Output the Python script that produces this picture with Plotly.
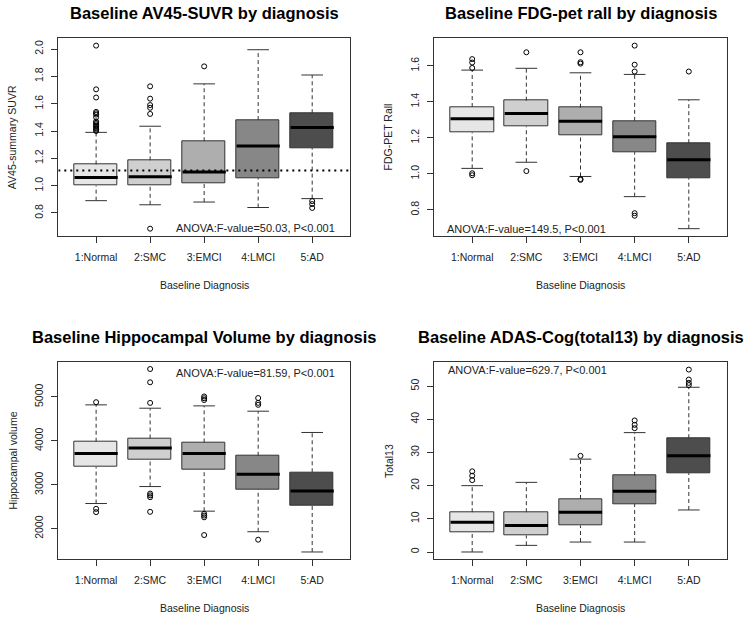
import plotly.graph_objects as go

categories = ["1:Normal", "2:SMC", "3:EMCI", "4:LMCI", "5:AD"]
fill_colors = ["#E6E6E6", "#CFCFCF", "#AEAEAE", "#878787", "#4D4D4D"]

# Panel 1: AV45-SUVR
av45_lo = [0.89, 0.86, 0.88, 0.84, 0.905]
av45_q1 = [1.00, 1.005, 1.02, 1.055, 1.275]
av45_med = [1.06, 1.065, 1.10, 1.29, 1.425]
av45_q3 = [1.155, 1.185, 1.325, 1.48, 1.53]
av45_hi = [1.39, 1.435, 1.745, 1.995, 1.81]
av45_out = [
    [1.40, 1.41, 1.42, 1.43, 1.44, 1.45, 1.46, 1.47, 1.50, 1.52, 1.53, 1.54, 1.645, 1.705, 2.025],
    [0.685, 1.525, 1.57, 1.59, 1.637, 1.727],
    [1.873],
    [],
    [0.837, 0.865, 0.887],
]
av45_cutoff = 1.11

# Panel 2: FDG-PET
fdg_lo = [1.03, 1.064, 0.985, 0.873, 0.695]
fdg_q1 = [1.23, 1.263, 1.215, 1.12, 0.976]
fdg_med = [1.306, 1.335, 1.292, 1.206, 1.078]
fdg_q3 = [1.371, 1.406, 1.367, 1.294, 1.17]
fdg_hi = [1.576, 1.586, 1.561, 1.552, 1.411]
fdg_out = [
    [0.992, 1.003, 1.588, 1.618, 1.637],
    [1.015, 1.675],
    [0.966, 0.971, 1.612, 1.620, 1.675],
    [0.767, 0.781, 1.568, 1.606, 1.712],
    [1.568],
]

# Panel 3: Hippocampal volume
hip_lo = [2574, 2960, 2400, 1932, 1471]
hip_q1 = [3405, 3579, 3345, 2899, 2529]
hip_med = [3715, 3836, 3715, 3239, 2861]
hip_q3 = [3980, 4055, 3965, 3662, 3285]
hip_hi = [4819, 4743, 4796, 4675, 4191]
hip_out = [
    [2378, 2453, 4880],
    [2385, 2718, 2760, 2800, 4864, 5333, 5635],
    [1856, 2260, 2300, 2340, 4930, 4970, 5010],
    [1751, 4820, 4865, 4975],
    [],
]

# Panel 4: ADAS-Cog 13
adas_lo = [0, 2, 3, 3, 12.67]
adas_q1 = [6, 5, 8, 14.5, 23.8]
adas_med = [9, 8, 12, 18.3, 29]
adas_q3 = [12, 12, 16, 23, 34.3]
adas_hi = [20, 21, 28, 36, 49.67]
adas_out = [
    [21.67, 23, 24.33],
    [],
    [29],
    [37.33, 38.33, 39.67],
    [50.33, 51, 52, 55],
]

titles = [
    "Baseline AV45-SUVR by diagnosis",
    "Baseline FDG-pet rall by diagnosis",
    "Baseline Hippocampal Volume by diagnosis",
    "Baseline ADAS-Cog(total13) by diagnosis",
]
ytitles = ["AV45-summary SUVR", "FDG-PET Rall", "Hippocampal volume", "Total13"]
xtitle = "Baseline Diagnosis"
anova = [
    "ANOVA:F-value=50.03, P<0.001",
    "ANOVA:F-value=149.5, P<0.001",
    "ANOVA:F-value=81.59, P<0.001",
    "ANOVA:F-value=629.7, P<0.001",
]
yticks = [
    [0.8, 1.0, 1.2, 1.4, 1.6, 1.8, 2.0],
    [0.8, 1.0, 1.2, 1.4, 1.6],
    [2000, 3000, 4000, 5000],
    [0, 10, 20, 30, 40, 50],
]
ytickfmt = [".1f", ".1f", "d", "d"]

panels = [
    (av45_lo, av45_q1, av45_med, av45_q3, av45_hi, av45_out),
    (fdg_lo, fdg_q1, fdg_med, fdg_q3, fdg_hi, fdg_out),
    (hip_lo, hip_q1, hip_med, hip_q3, hip_hi, hip_out),
    (adas_lo, adas_q1, adas_med, adas_q3, adas_hi, adas_out),
]

W, H = 751, 620
# plot-area pixel boxes (left, right, top, bottom)
boxes = [
    (58.3, 350.0, 38.3, 236.0),
    (434.3, 726.7, 38.3, 236.0),
    (58.3, 350.0, 361.7, 559.3),
    (434.3, 726.7, 362.3, 559.3),
]

FONT = "Liberation Sans, Arial, sans-serif"
TXT = "#222222"
LINE = "#333333"

fig = go.Figure()
layout = dict(
    width=W, height=H, margin=dict(l=0, r=0, t=0, b=0),
    paper_bgcolor="white", plot_bgcolor="white", showlegend=False,
    font=dict(family=FONT, color=TXT, size=10.5),
    bargap=0,
)
annotations = []
xs = [1, 2, 3, 4, 5]

for p, (lo, q1, med, q3, hi, outs) in enumerate(panels):
    ax = "" if p == 0 else str(p + 1)
    xa, ya = "x" + ax, "y" + ax
    # box bodies
    fig.add_trace(go.Bar(
        x=xs, base=q1, y=[b - a for a, b in zip(q1, q3)], width=0.8,
        marker=dict(color=fill_colors, line=dict(color=LINE, width=1)),
        xaxis=xa, yaxis=ya, hoverinfo="skip"))
    # whiskers
    wx, wy = [], []
    for i in range(5):
        wx += [xs[i], xs[i], None, xs[i], xs[i], None]
        wy += [q3[i], hi[i], None, lo[i], q1[i], None]
    fig.add_trace(go.Scatter(x=wx, y=wy, mode="lines",
                             line=dict(color=LINE, width=1, dash="4px,3px"),
                             xaxis=xa, yaxis=ya, hoverinfo="skip"))
    # staples
    sx, sy = [], []
    for i in range(5):
        sx += [xs[i] - 0.2, xs[i] + 0.2, None, xs[i] - 0.2, xs[i] + 0.2, None]
        sy += [hi[i], hi[i], None, lo[i], lo[i], None]
    fig.add_trace(go.Scatter(x=sx, y=sy, mode="lines",
                             line=dict(color=LINE, width=1),
                             xaxis=xa, yaxis=ya, hoverinfo="skip"))
    # medians
    mx, my = [], []
    for i in range(5):
        mx += [xs[i] - 0.4, xs[i] + 0.4, None]
        my += [med[i], med[i], None]
    fig.add_trace(go.Scatter(x=mx, y=my, mode="lines",
                             line=dict(color="black", width=3),
                             xaxis=xa, yaxis=ya, hoverinfo="skip"))
    # outliers
    ox, oy = [], []
    for i in range(5):
        ox += [xs[i]] * len(outs[i])
        oy += outs[i]
    fig.add_trace(go.Scatter(x=ox, y=oy, mode="markers",
                             marker=dict(symbol="circle-open", size=5, color="black",
                                         line=dict(width=1)),
                             xaxis=xa, yaxis=ya, hoverinfo="skip"))
    if p == 0:
        fig.add_trace(go.Scatter(x=[0.3, 5.7], y=[av45_cutoff, av45_cutoff], mode="lines",
                                 line=dict(color="black", width=2, dash="2px,4px"),
                                 xaxis=xa, yaxis=ya, hoverinfo="skip"))

    # axis ranges (R style 4% extension)
    allv = lo + hi + [v for o in outs for v in o]
    vmin, vmax = min(allv), max(allv)
    ext = (vmax - vmin) * 0.04
    L, R, T, B = boxes[p]
    layout["xaxis" + ax] = dict(
        domain=[L / W, R / W], range=[0.3, 5.7], anchor=ya,
        tickmode="array", tickvals=xs, ticktext=categories,
        ticks="outside", ticklen=6, tickcolor=LINE, tickwidth=1,
        showline=True, linecolor=LINE, linewidth=1, mirror=True,
        showgrid=False, zeroline=False, fixedrange=True,
        tickfont=dict(size=10.5, color=TXT), ticklabelstandoff=5,
    )
    layout["yaxis" + ax] = dict(
        domain=[1 - B / H, 1 - T / H], range=[vmin - ext, vmax + ext], anchor=xa,
        tickmode="array", tickvals=yticks[p], tickformat=ytickfmt[p],
        ticks="outside", ticklen=6, tickcolor=LINE, tickwidth=1, tickangle=-90,
        showline=True, linecolor=LINE, linewidth=1, mirror=True,
        showgrid=False, zeroline=False, fixedrange=True,
        tickfont=dict(size=10.5, color=TXT), ticklabelstandoff=4,
    )
    cx = (L + R) / 2 / W
    # title
    ty = 13 if p < 2 else 336.7
    annotations.append(dict(text="<b>" + titles[p] + "</b>", x=cx, y=1 - ty / H,
                            xref="paper", yref="paper", showarrow=False,
                            xanchor="center", yanchor="middle",
                            font=dict(size=16.5, color="black", family=FONT)))
    # x title
    xty = 285 if p < 2 else 607.7
    annotations.append(dict(text=xtitle, x=cx, y=1 - xty / H, xref="paper", yref="paper",
                            showarrow=False, xanchor="center", yanchor="middle",
                            font=dict(size=10.5, color=TXT)))
    # y title
    ytx = 12 if p % 2 == 0 else 388.3
    annotations.append(dict(text=ytitles[p], x=ytx / W, y=1 - (T + B) / 2 / H,
                            xref="paper", yref="paper", showarrow=False, textangle=-90,
                            xanchor="center", yanchor="middle",
                            font=dict(size=10.5, color=TXT)))

# ANOVA annotations
anova_pos = [
    (0.955, 0.04, "right"),
    (0.037, 0.034, "left"),
    (0.955, 0.941, "right"),
    (0.039, 0.961, "left"),
]
for p in range(4):
    ax = "" if p == 0 else str(p + 1)
    x, y, anc = anova_pos[p]
    annotations.append(dict(text=anova[p], x=x, y=y, xref="x" + ax + " domain",
                            yref="y" + ax + " domain", showarrow=False,
                            xanchor=anc, yanchor="middle",
                            font=dict(size=11, color=TXT)))

layout["annotations"] = annotations
fig.update_layout(**layout)
fig.write_html("out.html", config={"displayModeBar": False},
               post_script="document.body.style.margin='0px';")
